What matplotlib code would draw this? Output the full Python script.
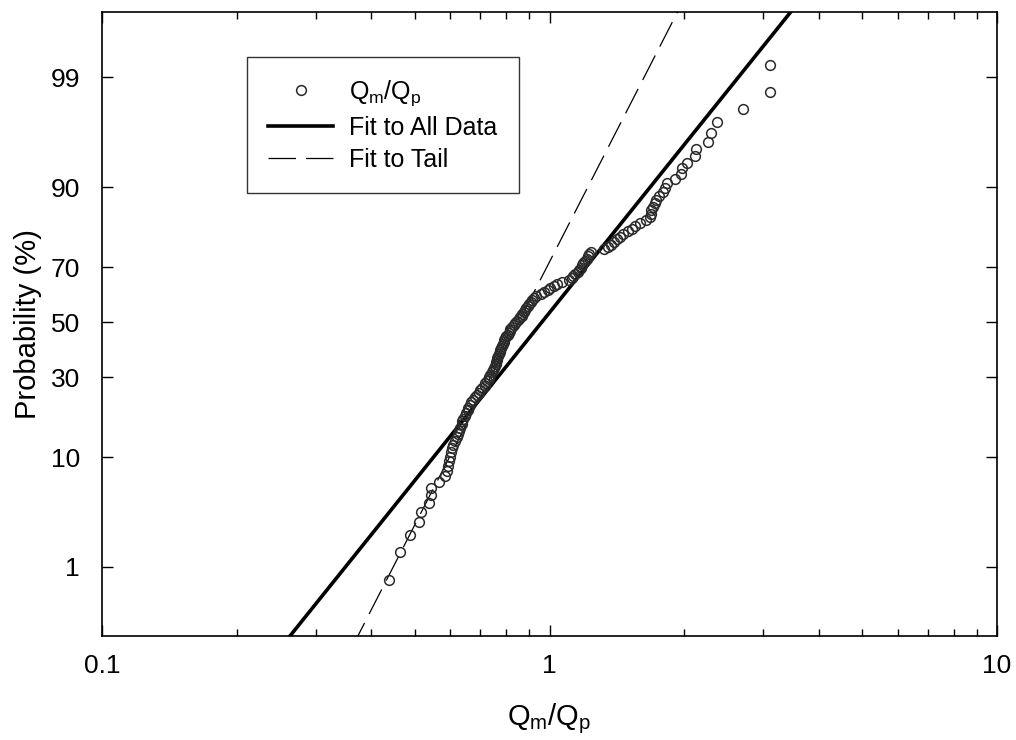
import numpy as np
import matplotlib
matplotlib.use("Agg")
import matplotlib.pyplot as plt
from matplotlib.ticker import FixedLocator, FixedFormatter, LogLocator, NullFormatter, NullLocator
from statistics import NormalDist

# sorted Qm/Qp ratios
ratios = [
    0.437, 0.463, 0.487, 0.510, 0.515, 0.537, 0.543, 0.544, 0.566, 0.583,
    0.589, 0.593, 0.596, 0.599, 0.602, 0.605, 0.610, 0.616, 0.620, 0.624,
    0.629, 0.632, 0.636, 0.639, 0.642, 0.647, 0.652, 0.656, 0.659, 0.664,
    0.669, 0.676, 0.683, 0.689, 0.694, 0.701, 0.708, 0.716, 0.719, 0.725,
    0.731, 0.734, 0.738, 0.742, 0.746, 0.750, 0.754, 0.758, 0.759, 0.763,
    0.765, 0.769, 0.773, 0.775, 0.777, 0.781, 0.785, 0.789, 0.791, 0.793,
    0.797, 0.801, 0.806, 0.810, 0.814, 0.818, 0.825, 0.831, 0.839, 0.846,
    0.853, 0.859, 0.866, 0.870, 0.875, 0.882, 0.888, 0.893, 0.900, 0.907,
    0.914, 0.923, 0.935, 0.955, 0.974, 0.990, 1.005, 1.021, 1.037, 1.064,
    1.103, 1.120, 1.131, 1.143, 1.155, 1.164, 1.173, 1.182, 1.191, 1.200,
    1.210, 1.219, 1.228, 1.241, 1.327, 1.348, 1.369, 1.390, 1.412, 1.434,
    1.463, 1.494, 1.525, 1.556, 1.597, 1.639, 1.673, 1.682, 1.690, 1.699,
    1.717, 1.734, 1.761, 1.789, 1.816, 1.835, 1.912, 1.972, 1.975, 2.024,
    2.109, 2.120, 2.255, 2.301, 2.362, 2.713, 3.102, 3.110,
]

# fitted lognormal lines, given by their two ends (ratio, probability %)
fit_all_x = [0.251, 3.68]
fit_all_p = [0.1, 99.9]
fit_tail_x = [0.362, 2.01]
fit_tail_p = [0.1, 99.9]

y_ticks = [1, 10, 30, 50, 70, 90, 99]
x_ticks = [0.1, 1, 10]
x_tick_labels = ["0.1", "1", "10"]

n = len(ratios)
prob = 100.0 * np.arange(1, n + 1) / (n + 1)   # Weibull plotting position

_nd = NormalDist()


def probit(p):
    p = np.clip(np.asarray(p, dtype=float) / 100.0, 1e-9, 1 - 1e-9)
    return np.vectorize(_nd.inv_cdf, otypes=[float])(p)


def inv_probit(z):
    return 100.0 * np.vectorize(_nd.cdf, otypes=[float])(np.asarray(z, dtype=float))


plt.rcParams["font.family"] = ["Liberation Sans", "DejaVu Sans"]
plt.rcParams["mathtext.fontset"] = "custom"
plt.rcParams["mathtext.rm"] = "Liberation Sans"

fig = plt.figure(figsize=(10.16, 7.4), dpi=100)
ax = fig.add_axes([0.1004, 0.1405, 0.8809, 0.8433])

ax.set_xscale("log")
ax.set_yscale("function", functions=(probit, inv_probit))

ax.plot(fit_all_x, fit_all_p, color="black", lw=2.6, label="Fit to All Data", zorder=2)
ax.plot(fit_tail_x, fit_tail_p, color="black", lw=0.9, dashes=(22, 8), label="Fit to Tail", zorder=2)
ax.plot(ratios, prob, ls="none", marker="o", ms=7, mfc="none", mec="#2a2a2a",
        mew=1.1, label=r"Q$_\mathregular{m}$/Q$_\mathregular{p}$", zorder=3)

ax.set_xlim(0.1, 10)
ax.set_ylim(0.143, 99.84)

ax.xaxis.set_major_locator(FixedLocator(x_ticks))
ax.xaxis.set_major_formatter(FixedFormatter(x_tick_labels))
ax.xaxis.set_minor_locator(LogLocator(base=10, subs=np.arange(2, 10), numticks=20))
ax.xaxis.set_minor_formatter(NullFormatter())
ax.yaxis.set_major_locator(FixedLocator(y_ticks))
ax.yaxis.set_major_formatter(FixedFormatter([str(t) for t in y_ticks]))
ax.yaxis.set_minor_locator(NullLocator())

ax.tick_params(which="both", direction="in", top=True, right=True, labelsize=19, width=1.0)
ax.tick_params(which="major", length=8)
ax.tick_params(which="minor", length=5)
ax.tick_params(axis="y", which="major", pad=16)
ax.tick_params(axis="x", which="major", pad=13)
for s in ax.spines.values():
    s.set_linewidth(1.2)

ax.set_xlabel(r"Q$_\mathregular{m}$/Q$_\mathregular{p}$", fontsize=21, labelpad=17)
ax.set_ylabel("Probability (%)", fontsize=21, labelpad=6)

handles, labels = ax.get_legend_handles_labels()
order = [2, 0, 1]
leg = ax.legend([handles[i] for i in order], [labels[i] for i in order],
                loc="upper left", bbox_to_anchor=(0.162, 0.928), borderaxespad=0,
                fontsize=18, handlelength=2.6, handletextpad=0.65, labelspacing=0.32,
                borderpad=0.85, fancybox=False, edgecolor="#333333", framealpha=1)
leg.get_frame().set_linewidth(1.0)

fig.savefig("out.png", dpi=100)
